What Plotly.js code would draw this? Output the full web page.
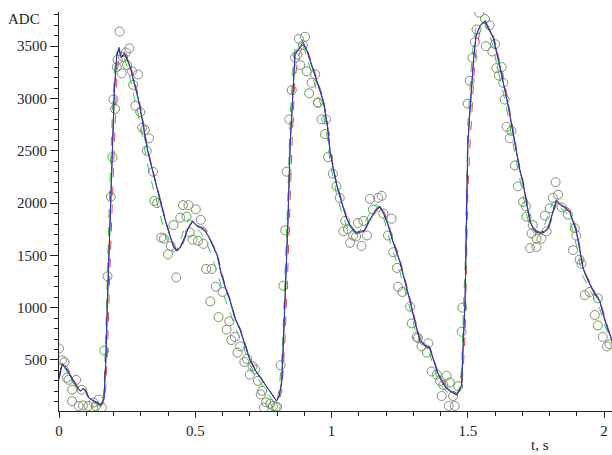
<!DOCTYPE html>
<html><head><meta charset="utf-8">
<script src="https://cdn.plot.ly/plotly-3.0.1.min.js"></script>
<style>html,body{margin:0;padding:0;background:#fff}#chart{width:612px;height:455px}</style>
</head><body><div id="chart"></div>
<script>
var tLine = [0,0.012,0.03,0.049,0.065,0.078,0.09,0.1,0.108,0.125,
0.14,0.155,0.165,0.172,0.178,0.186,0.195,0.203,0.212,0.22,
0.228,0.24,0.25,0.262,0.275,0.29,0.305,0.324,0.34,0.355,
0.372,0.39,0.405,0.42,0.432,0.445,0.46,0.475,0.49,0.505,
0.52,0.536,0.55,0.565,0.58,0.595,0.61,0.628,0.645,0.665,
0.685,0.70,0.72,0.744,0.768,0.785,0.798,0.808,0.817,0.824,
0.83,0.84,0.848,0.857,0.866,0.88,0.896,0.91,0.92,0.933,
0.95,0.97,0.985,0.994,1.006,1.018,1.035,1.055,1.07,1.09,
1.105,1.12,1.135,1.15,1.165,1.178,1.192,1.207,1.225,1.25,
1.27,1.289,1.305,1.324,1.34,1.36,1.375,1.39,1.405,1.42,
1.44,1.458,1.468,1.477,1.484,1.49,1.495,1.50,1.507,1.514,
1.522,1.53,1.545,1.563,1.578,1.593,1.605,1.618,1.63,1.64,
1.655,1.666,1.678,1.69,1.703,1.715,1.728,1.745,1.764,1.78,
1.794,1.81,1.825,1.84,1.858,1.874,1.886,1.898,1.91,1.922,
1.935,1.947,1.965,1.984,2.0,2.015,2.03];

var yBlue = [330,470,400,310,250,200,230,200,140,110,
90,65,120,500,1060,1720,2440,3060,3420,3490,
3400,3430,3380,3300,3150,3000,2800,2510,2340,2180,
2020,1830,1700,1580,1540,1570,1660,1770,1830,1790,
1770,1740,1670,1580,1500,1320,1190,1060,900,780,
620,500,400,310,215,150,106,150,280,700,
1060,1820,2540,3050,3430,3480,3540,3460,3380,3270,
3130,2980,2740,2510,2340,2190,2030,1860,1780,1720,
1730,1740,1820,1890,1950,1970,1900,1800,1640,1450,
1260,1060,880,690,650,620,500,380,300,240,
200,170,200,250,700,1060,1820,2540,2850,3150,
3400,3590,3690,3745,3660,3590,3460,3300,3170,3050,
2840,2670,2500,2330,2190,2010,1830,1740,1720,1730,
1760,1900,2030,1990,1960,1920,1820,1740,1570,1390,
1300,1230,1140,1070,910,790,690];

var yPurple = [320,460,410,320,245,205,225,195,145,105,
85,70,140,520,1100,1750,2460,3080,3410,3470,
3390,3420,3370,3290,3160,3010,2810,2520,2350,2190,
2030,1840,1710,1590,1550,1580,1670,1760,1820,1780,
1760,1730,1680,1590,1510,1330,1200,1070,910,790,
630,510,405,315,220,155,110,160,300,720,
1080,1840,2560,3060,3420,3470,3520,3450,3370,3260,
3120,2970,2730,2500,2330,2180,2020,1850,1770,1710,
1720,1730,1810,1880,1940,1960,1890,1790,1630,1440,
1250,1050,870,680,640,610,490,370,290,230,
190,165,210,260,720,1080,1840,2560,2860,3160,
3410,3600,3700,3740,3650,3580,3450,3290,3160,3040,
2830,2660,2490,2320,2180,2000,1820,1730,1710,1720,
1750,1890,2020,1980,1950,1910,1810,1730,1560,1380,
1290,1220,1130,1060,900,780,680];

var yRed = [350,480,430,330,260,220,240,210,150,110,
95,70,90,250,600,1300,2000,2700,3200,3400,
3420,3440,3400,3320,3190,3040,2840,2540,2360,2200,
2040,1850,1720,1600,1550,1560,1640,1760,1830,1800,
1780,1760,1700,1600,1520,1350,1210,1080,920,800,
640,520,410,320,220,160,110,120,200,450,
750,1400,2100,2700,3200,3420,3500,3470,3400,3300,
3160,3000,2760,2530,2360,2200,2050,1870,1790,1720,
1720,1730,1800,1870,1940,1980,1920,1820,1660,1470,
1280,1080,900,710,660,630,510,390,310,250,
210,180,190,220,450,750,1400,2100,2500,2900,
3200,3450,3650,3730,3680,3610,3490,3330,3200,3080,
2870,2700,2520,2350,2210,2030,1850,1750,1720,1720,
1740,1860,2000,2000,1970,1940,1850,1760,1600,1410,
1310,1240,1150,1080,930,800,700];

var yGreenLine = [310,460,380,290,240,190,220,180,120,90,
70,50,200,800,1400,2100,2800,3250,3440,3460,
3380,3380,3300,3180,3020,2860,2650,2380,2200,2040,
1880,1700,1600,1530,1560,1640,1760,1850,1820,1760,
1720,1660,1570,1460,1340,1200,1080,950,820,700,
560,460,360,260,170,110,80,220,500,900,
1300,2100,2800,3250,3470,3510,3500,3400,3300,3180,
3030,2860,2620,2400,2240,2090,1930,1780,1720,1700,
1740,1800,1880,1950,1990,1950,1850,1720,1540,1350,
1160,980,800,660,630,560,430,320,250,200,
170,160,230,400,1000,1400,2100,2750,3050,3350,
3560,3680,3730,3720,3620,3500,3340,3180,3060,2940,
2720,2560,2400,2240,2080,1900,1760,1710,1730,1780,
1880,2000,2020,1950,1920,1850,1720,1600,1440,1300,
1240,1170,1090,990,850,740,650];

var tGray = [0.0,0.011,0.035,0.048,0.063,0.072,0.084,0.127,0.145,0.157,
0.2,0.212,0.222,0.23,0.245,0.258,0.268,0.28,0.29,0.305,
0.33,0.345,0.36,0.385,0.41,0.43,0.445,0.475,0.49,0.502,
0.52,0.53,0.56,0.575,0.6,0.625,0.645,0.665,0.68,0.7,
0.72,0.74,0.752,0.775,0.795,
0.813,0.83,0.845,0.866,0.88,0.885,0.903,0.927,0.94,0.95,
0.963,0.98,1.005,1.03,1.043,1.068,1.079,1.097,1.11,1.13,
1.141,1.171,1.184,1.22,1.226,1.244,1.288,1.312,1.33,1.355,
1.367,1.398,1.404,1.422,1.43,1.452,1.477,
1.507,1.526,1.542,1.566,1.58,1.6,1.614,1.63,1.642,1.654,
1.684,1.713,1.734,1.728,1.752,1.77,1.783,1.812,1.822,1.844,
1.886,1.898,1.917,1.929,1.966,1.995,2.01];
var yGray = [610,497,310,106,310,60,215,93,120,45,
2990,3300,3640,3240,3440,3480,3260,2930,3230,2720,
2620,2300,2000,1660,1590,1290,1860,1980,1650,1940,
1840,1610,1370,1200,1150,870,720,630,480,360,
410,170,45,80,55,
450,1740,2800,3390,3570,3320,3590,3150,3230,2960,
2800,2800,2280,2050,1730,1620,1690,1810,1590,1690,
2040,2050,2070,1850,1530,1200,1010,720,630,660,
390,300,155,350,60,60,770,
3170,3540,3820,3500,3700,3520,3220,3150,2730,2620,
2160,1970,1710,1570,1580,1660,1880,2050,2200,1960,
1550,1690,1420,1120,930,720,630];

var tGreen = [0.02,0.029,0.048,0.088,0.108,0.135,0.166,0.178,0.19,0.196,
0.206,0.215,0.235,0.25,0.272,0.298,0.315,0.322,0.35,0.375,
0.4,0.42,0.455,0.468,0.48,0.51,0.54,0.555,0.585,0.615,
0.632,0.655,0.69,0.71,0.73,0.745,0.76,0.785,0.8,
0.823,0.835,0.854,0.875,0.895,0.909,0.918,0.95,0.976,0.987,
1.018,1.05,1.06,1.09,1.117,1.152,1.19,1.207,1.24,1.26,
1.294,1.317,1.35,1.386,1.41,1.434,1.446,1.465,1.48,
1.5,1.517,1.532,1.563,1.59,1.605,1.624,1.635,1.66,1.673,
1.703,1.715,1.738,1.752,1.789,1.8,1.831,1.867,1.892,1.91,
1.947,1.977,1.977,2.02];
var yGreen = [480,330,215,65,60,60,590,1300,2060,2440,
2900,3370,3400,3320,3130,2870,2700,2500,2020,1670,
1510,1790,1980,1870,1720,1640,1370,1060,910,790,
690,570,510,440,300,205,95,60,50,
1210,2300,3080,3420,3510,3260,3050,2960,2660,2440,
2160,1830,1750,1680,1830,1940,1900,1690,1380,1150,
850,710,570,360,260,285,155,250,1000,
2950,3390,3660,3760,3450,3290,3300,2990,2690,2360,
2010,1870,1790,1660,1730,1950,2080,1890,1760,1460,
1150,1090,830,650];

var traces = [
  {x: tGray, y: yGray, mode: 'markers', type: 'scatter',
   marker: {symbol: 'circle-open', size: 9, color: '#8a8a8a', line: {width: 1}}},
  {x: tGreen, y: yGreen, mode: 'markers', type: 'scatter',
   marker: {symbol: 'circle-open', size: 9, color: '#6a9a4a', line: {width: 1}}},
  {x: tLine, y: yGreenLine, mode: 'lines', type: 'scatter',
   line: {color: '#3cc04a', width: 1, dash: 'dash'}},
  {x: tLine, y: yRed, mode: 'lines', type: 'scatter',
   line: {color: '#d84a4a', width: 1, dash: 'dash'}},
  {x: tLine, y: yPurple, mode: 'lines', type: 'scatter',
   line: {color: '#4a2a6a', width: 1}},
  {x: tLine, y: yBlue, mode: 'lines', type: 'scatter',
   line: {color: '#2a3ac0', width: 1}}
];

var fnt = {family: "'Liberation Serif', 'Times New Roman', serif", size: 15, color: '#222'};
var layout = {
  width: 612, height: 455,
  margin: {l: 59, r: 0, t: 12, b: 44},
  paper_bgcolor: '#fff', plot_bgcolor: '#fff',
  showlegend: false,
  font: fnt,
  xaxis: {range: [0, 2.029], showgrid: false, zeroline: false, showline: true,
    linecolor: '#222', linewidth: 1, ticks: 'outside', ticklen: 6, tickcolor: '#222',
    tick0: 0, dtick: 0.5, tickfont: fnt,
    minor: {dtick: 0.1, ticks: 'outside', ticklen: 4, tickcolor: '#222', showgrid: false}},
  yaxis: {range: [12, 3827], showgrid: false, zeroline: false, showline: true,
    linecolor: '#222', linewidth: 1, ticks: 'outside', ticklen: 8, tickcolor: '#222',
    tick0: 0, dtick: 500, tickfont: fnt,
    minor: {dtick: 100, ticks: 'outside', ticklen: 4, tickcolor: '#222', showgrid: false}},
  annotations: [
    {text: 'ADC', xref: 'paper', yref: 'paper', x: -0.063, y: 0.982,
     showarrow: false, font: fnt, xanchor: 'center', yanchor: 'middle'},
    {text: 't, s', xref: 'paper', yref: 'paper', x: 0.87, y: -0.085,
     showarrow: false, font: fnt, xanchor: 'center', yanchor: 'middle'}
  ]
};
Plotly.newPlot('chart', traces, layout, {displayModeBar: false, staticPlot: true});
</script></body></html>
